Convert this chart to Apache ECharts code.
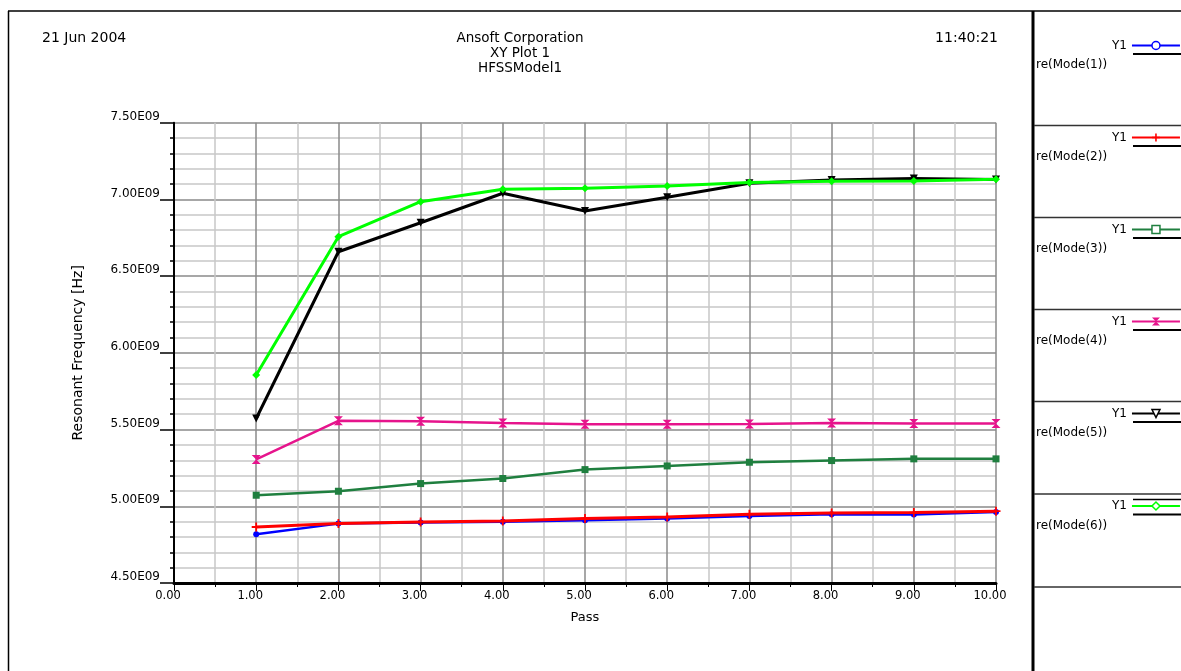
<!DOCTYPE html>
<html>
<head>
<meta charset="utf-8">
<script src="https://cdn.jsdelivr.net/npm/echarts@6/dist/echarts.min.js"></script>
<style>
  html, body { margin: 0; padding: 0; background: #ffffff; }
  #chart { width: 1181px; height: 671px; }
</style>
</head>
<body>
<div id="chart"></div>
<script>
// ---- data ----
const passes = [1, 2, 3, 4, 5, 6, 7, 8, 9, 10];
const mode1 = [4.817e9, 4.887e9, 4.894e9, 4.900e9, 4.909e9, 4.920e9, 4.937e9, 4.948e9, 4.946e9, 4.963e9];
const mode2 = [4.865e9, 4.887e9, 4.898e9, 4.904e9, 4.920e9, 4.930e9, 4.948e9, 4.957e9, 4.959e9, 4.968e9];
const mode3 = [5.072e9, 5.098e9, 5.148e9, 5.181e9, 5.239e9, 5.263e9, 5.287e9, 5.298e9, 5.309e9, 5.309e9];
const mode4 = [5.305e9, 5.557e9, 5.555e9, 5.543e9, 5.535e9, 5.535e9, 5.537e9, 5.543e9, 5.540e9, 5.540e9];
const mode5 = [5.572e9, 6.659e9, 6.848e9, 7.040e9, 6.924e9, 7.014e9, 7.105e9, 7.126e9, 7.137e9, 7.130e9];
const mode6 = [5.855e9, 6.757e9, 6.985e9, 7.066e9, 7.072e9, 7.087e9, 7.111e9, 7.118e9, 7.120e9, 7.131e9];
const seriesNames = ['re(Mode(1))', 're(Mode(2))', 're(Mode(3))', 're(Mode(4))', 're(Mode(5))', 're(Mode(6))'];
const legendTag = 'Y1';
const titleLines = ['Ansoft Corporation', 'XY Plot 1', 'HFSSModel1'];
const dateText = '21 Jun 2004';
const timeText = '11:40:21';
const xAxisName = 'Pass';
const yAxisName = 'Resonant Frequency [Hz]';

// ---- styles ----
const FONT = 'DejaVu Sans';
const colors = ['#0000ff', '#ff0000', '#1f7f3f', '#e6148c', '#000000', '#00ff00'];
const PLUS = 'path://M4,0 H6 V4 H10 V6 H6 V10 H4 V6 H0 V4 H4 Z';
const HOURGLASS = 'path://M0,0 H10 L5,5 L10,10 H0 L5,5 Z';
const symbols = ['circle', PLUS, 'rect', HOURGLASS, 'triangle', 'diamond'];
const symbolSizes = [6, 9, 7, 9, 8, 8];
const symbolRot = [0, 0, 0, 0, 180, 0];
const lineWidths = [2.5, 3, 2.5, 2.5, 3, 3];
const legendHollow = [true, false, true, false, true, true];
const allData = [mode1, mode2, mode3, mode4, mode5, mode6];

const chart = echarts.init(document.getElementById('chart'), null, { renderer: 'canvas' });

const series = allData.map((vals, i) => ({
  name: seriesNames[i],
  type: 'line',
  data: passes.map((p, k) => [p, vals[k]]),
  symbol: symbols[i],
  symbolSize: symbolSizes[i],
  symbolRotate: symbolRot[i],
  showAllSymbol: true,
  lineStyle: { color: colors[i], width: lineWidths[i] },
  itemStyle: { color: colors[i] },
  emphasis: { disabled: true },
  animation: false,
  z: 3 + i
}));

const legendY = [46.5, 138.5, 230.5, 322.5, 414.5, 507];
const legends = seriesNames.map((n, i) => ({
  data: [legendHollow[i]
    ? { name: n, itemStyle: { color: '#ffffff', borderColor: colors[i], borderWidth: 1.5 } }
    : { name: n }],
  orient: 'vertical',
  left: 1112,
  top: legendY[i] - 7,
  padding: 0,
  align: 'right',
  itemWidth: 48,
  itemHeight: 10,
  selectedMode: false,
  formatter: () => legendTag,
  textStyle: { fontFamily: FONT, fontSize: 12, color: '#000' }
}));

const graphics = [];
// outer frame
graphics.push({ type: 'line', shape: { x1: 8.5, y1: 11, x2: 8.5, y2: 671 }, style: { stroke: '#000', lineWidth: 1.5 } });
graphics.push({ type: 'line', shape: { x1: 8, y1: 11, x2: 1181, y2: 11 }, style: { stroke: '#000', lineWidth: 1.5 } });
graphics.push({ type: 'line', shape: { x1: 1033, y1: 11, x2: 1033, y2: 671 }, style: { stroke: '#000', lineWidth: 3 } });
// legend separators
const seps = [125.5, 217.5, 309.5, 401.5, 494, 587];
seps.forEach(y => graphics.push({ type: 'line', shape: { x1: 1034, y1: y, x2: 1181, y2: y }, style: { stroke: '#333', lineWidth: 1.5 } }));
// legend underline + names
seriesNames.forEach((n, i) => {
  graphics.push({ type: 'line', shape: { x1: 1133, y1: legendY[i] + 7.5, x2: 1181, y2: legendY[i] + 7.5 }, style: { stroke: '#000', lineWidth: 2 } });
  graphics.push({ type: 'text', x: 1036, y: legendY[i] + 18.5, style: { text: n, font: '12px "' + FONT + '"', fill: '#000', textAlign: 'left', textVerticalAlign: 'middle' } });
});
graphics.push({ type: 'line', shape: { x1: 1133, y1: legendY[5] - 7.5, x2: 1181, y2: legendY[5] - 7.5 }, style: { stroke: '#000', lineWidth: 1.5 } });
// header texts
graphics.push({ type: 'text', x: 42, y: 38, style: { text: dateText, font: '14px "' + FONT + '"', fill: '#000', textAlign: 'left', textVerticalAlign: 'middle' } });
graphics.push({ type: 'text', x: 998, y: 38, style: { text: timeText, font: '14px "' + FONT + '"', fill: '#000', textAlign: 'right', textVerticalAlign: 'middle' } });
titleLines.forEach((t, i) => graphics.push({ type: 'text', x: 520, y: 38 + i * 15, style: { text: t, font: '13.5px "' + FONT + '"', fill: '#000', textAlign: 'center', textVerticalAlign: 'middle' } }));

const option = {
  backgroundColor: '#ffffff',
  animation: false,
  grid: { left: 174, right: 185, top: 122.7, bottom: 88, containLabel: false },
  legend: legends,
  xAxis: {
    type: 'value',
    min: 0, max: 10, interval: 1,
    name: xAxisName,
    nameLocation: 'middle',
    nameGap: 28,
    nameTextStyle: { fontFamily: FONT, fontSize: 13, color: '#000' },
    axisLine: { show: true, onZero: false, lineStyle: { color: '#000', width: 3 } },
    axisTick: { show: true, length: 8, lineStyle: { color: '#000', width: 1 } },
    minorTick: { show: true, splitNumber: 2, length: 4, lineStyle: { color: '#000', width: 1 } },
    axisLabel: { fontFamily: FONT, fontSize: 11.5, color: '#000', margin: 7, padding: [0, 12, 0, 0], formatter: v => v.toFixed(2) },
    splitLine: { show: true, lineStyle: { color: '#8a8a8a', width: 1.5 } },
    minorSplitLine: { show: true, lineStyle: { color: '#c8c8c8', width: 1.5 } }
  },
  yAxis: {
    type: 'value',
    min: 4.5e9, max: 7.5e9, interval: 0.5e9,
    name: yAxisName,
    nameLocation: 'middle',
    nameGap: 89,
    nameRotate: 90,
    nameTextStyle: { fontFamily: FONT, fontSize: 14, color: '#000' },
    axisLine: { show: true, onZero: false, lineStyle: { color: '#000', width: 2 } },
    axisTick: { show: true, length: 14, lineStyle: { color: '#000', width: 1.5 } },
    minorTick: { show: true, splitNumber: 5, length: 4, lineStyle: { color: '#000', width: 1.5 } },
    axisLabel: { fontFamily: FONT, fontSize: 12, color: '#000', margin: 14, verticalAlign: 'bottom', formatter: v => (v / 1e9).toFixed(2) + 'E09' },
    splitLine: { show: true, lineStyle: { color: '#8a8a8a', width: 1.5 } },
    minorSplitLine: { show: true, lineStyle: { color: '#c8c8c8', width: 1.5 } }
  },
  graphic: graphics,
  series: series
};
chart.setOption(option);
</script>
</body>
</html>
